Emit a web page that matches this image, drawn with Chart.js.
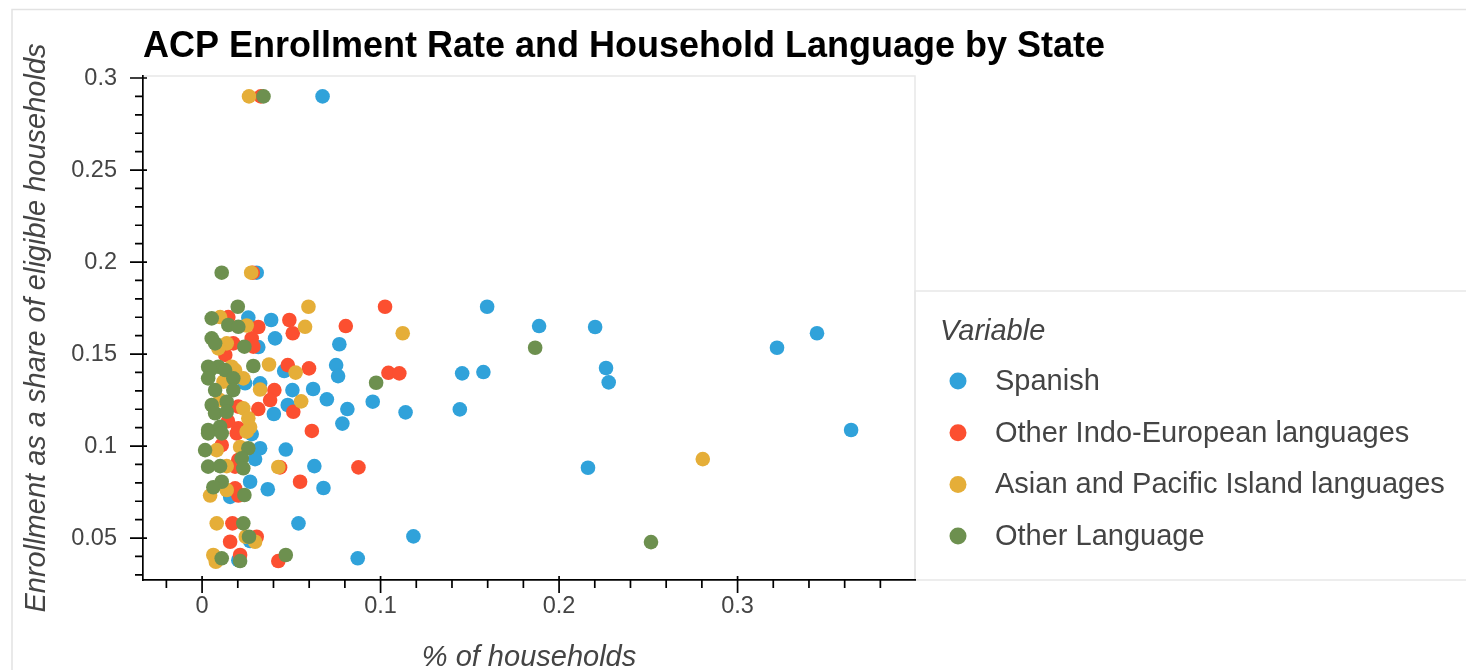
<!DOCTYPE html>
<html><head><meta charset="utf-8">
<script src="https://cdn.jsdelivr.net/npm/chart.js@4.4.1/dist/chart.umd.min.js"></script>
<style>html,body{margin:0;padding:0;background:#fff;overflow:hidden}#wrap{position:relative;width:1466px;height:670px}</style>
</head><body><div id="wrap"><canvas id="c" width="1466" height="670"></canvas></div>
<script>
const chartTitle = "ACP Enrollment Rate and Household Language by State";
const xAxisTitle = "% of households";
const yAxisTitle = "Enrollment as a share of eligible households";
const legendTitle = "Variable";
const seriesNames = ["Spanish", "Other Indo-European languages", "Asian and Pacific Island languages", "Other Language"];
const seriesColors = ["#30a2da", "#fc4f30", "#e5ae38", "#6d904f"];

const xTickValues = [0, 0.1, 0.2, 0.3];
const xTickLabels = ["0", "0.1", "0.2", "0.3"];
const yTickValues = [0.05, 0.1, 0.15, 0.2, 0.25, 0.3];
const yTickLabels = ["0.05", "0.1", "0.15", "0.2", "0.25", "0.3"];
const xMinorTicks = [-0.02, 0.02, 0.04, 0.06, 0.08, 0.12, 0.14, 0.16, 0.18, 0.22, 0.24, 0.26, 0.28, 0.32, 0.34, 0.36, 0.38];
const yMinorTicks = [0.03, 0.04, 0.06, 0.07, 0.08, 0.09, 0.11, 0.12, 0.13, 0.14, 0.16, 0.17, 0.18, 0.19, 0.21, 0.22, 0.23, 0.24, 0.26, 0.27, 0.28, 0.29];
const xRange = [-0.0331, 0.3994];
const yRange = [0.0272, 0.3011];

const spanishX = [0.0675,0.0306,0.1597,0.0259,0.0387,0.1888,0.2202,0.0409,0.0769,0.0315,0.3221,0.3445,0.0751,0.0762,0.0460,0.1457,0.1576,0.2278,0.2263,0.0241,0.0325,0.0622,0.0506,0.0699,0.0956,0.0480,0.0814,0.0402,0.1140,0.1444,0.0786,0.3636,0.0278,0.0325,0.0469,0.0297,0.0629,0.2162,0.0269,0.0368,0.0680,0.0157,0.0540,0.0269,0.1184,0.0203,0.0872];
const spanishY = [0.290,0.1942,0.1757,0.1698,0.1685,0.1652,0.1647,0.1585,0.1553,0.1538,0.1534,0.1613,0.1440,0.1380,0.1408,0.1395,0.1402,0.1346,0.1424,0.1341,0.1341,0.1310,0.1304,0.1254,0.1241,0.1223,0.1201,0.1174,0.1183,0.1199,0.1122,0.1087,0.1065,0.0988,0.0981,0.0929,0.0891,0.0882,0.0806,0.0765,0.0772,0.0724,0.0580,0.0484,0.0509,0.0380,0.0390];

const indoX = [0.0329,0.0284,0.1025,0.0147,0.0489,0.0805,0.0315,0.0508,0.0278,0.0175,0.0287,0.0480,0.0599,0.1044,0.1105,0.0405,0.0381,0.0511,0.0203,0.0315,0.0203,0.0615,0.0194,0.0203,0.0185,0.0437,0.0876,0.0549,0.0185,0.0203,0.0170,0.0306,0.0157,0.0213,0.0427,0.0130,0.0110,0.0145];
const indoY = [0.290,0.1942,0.1757,0.1701,0.1685,0.1652,0.1647,0.1613,0.1585,0.1558,0.1540,0.1440,0.1422,0.1398,0.1395,0.1304,0.1250,0.1186,0.1214,0.1201,0.1096,0.1082,0.1069,0.0924,0.0888,0.0884,0.0884,0.0806,0.0770,0.0731,0.0580,0.0507,0.0480,0.0408,0.0375,0.1495,0.1005,0.1135];

const asianX = [0.0263,0.0275,0.0596,0.0101,0.0577,0.0250,0.1124,0.0138,0.0091,0.0166,0.0375,0.0524,0.0185,0.0231,0.0325,0.0555,0.0231,0.0259,0.0269,0.0250,0.0082,0.0213,0.0138,0.0427,0.0138,0.0045,0.0082,0.0245,0.0297,0.0063,0.0077,0.2805,0.0100,0.0120];
const asianY = [0.290,0.1942,0.1757,0.1701,0.1648,0.1655,0.1613,0.1558,0.1531,0.1431,0.1443,0.1399,0.1413,0.1368,0.1307,0.1243,0.1205,0.1151,0.1103,0.1078,0.0978,0.0995,0.0891,0.0886,0.0761,0.0731,0.0580,0.0507,0.0480,0.0408,0.0371,0.0929,0.1250,0.1350];

const otherX = [0.0344,0.0110,0.0200,0.0054,0.0147,0.0203,0.0054,0.0073,0.0237,0.1866,0.0034,0.0091,0.0287,0.0045,0.0129,0.0034,0.0175,0.0975,0.0073,0.0175,0.0054,0.0138,0.0073,0.0138,0.0034,0.0101,0.0034,0.0110,0.0017,0.0259,0.0222,0.0034,0.0101,0.0231,0.0110,0.0063,0.0237,0.0231,0.0263,0.0110,0.0213,0.0469,0.2515];
const otherY = [0.290,0.1942,0.1757,0.1694,0.1658,0.1648,0.1585,0.1558,0.1540,0.1534,0.1431,0.1431,0.1435,0.1413,0.1413,0.1368,0.1368,0.1344,0.1304,0.1304,0.1223,0.1241,0.1178,0.1186,0.1087,0.1105,0.1069,0.1069,0.0978,0.0988,0.0933,0.0888,0.0891,0.0879,0.0806,0.0776,0.0734,0.0580,0.0507,0.0390,0.0375,0.0408,0.0478];

const FONT = '"Liberation Sans", Arial, Helvetica, sans-serif';
const TEXT = '#444444';

function pts(xs, ys) { return xs.map((x, i) => ({ x: x, y: ys[i] })); }
const seriesData = [pts(spanishX, spanishY), pts(indoX, indoY), pts(asianX, asianY), pts(otherX, otherY)];

const datasets = seriesNames.map((name, i) => ({
  label: name,
  data: seriesData[i],
  backgroundColor: seriesColors[i],
  borderWidth: 0,
  pointRadius: 7.3,
  pointHoverRadius: 7.3,
  order: seriesNames.length - i
}));

const decor = {
  id: 'decor',
  beforeDraw(chart) {
    const ctx = chart.ctx, a = chart.chartArea;
    ctx.save();
    ctx.strokeStyle = '#e2e2e2'; ctx.lineWidth = 1.5;
    ctx.beginPath(); ctx.moveTo(12, 672); ctx.lineTo(12, 9.5); ctx.lineTo(1470, 9.5); ctx.stroke();
    ctx.strokeStyle = '#e8e8e8'; ctx.lineWidth = 1.5;
    ctx.beginPath(); ctx.moveTo(a.left, a.top); ctx.lineTo(a.right, a.top); ctx.lineTo(a.right, a.bottom); ctx.stroke();
    ctx.beginPath(); ctx.moveTo(1470, 291); ctx.lineTo(a.right, 291); ctx.lineTo(a.right, a.bottom); ctx.lineTo(1470, a.bottom); ctx.stroke();
    ctx.restore();
  },
  afterDraw(chart) {
    const ctx = chart.ctx, a = chart.chartArea;
    const xs = chart.scales.x, ys = chart.scales.y;
    ctx.save();
    ctx.strokeStyle = '#000'; ctx.lineWidth = 1.7;
    ctx.beginPath();
    xTickValues.forEach(v => { const p = xs.getPixelForValue(v); ctx.moveTo(p, a.bottom - 4); ctx.lineTo(p, a.bottom + 13); });
    xMinorTicks.forEach(v => { const p = xs.getPixelForValue(v); ctx.moveTo(p, a.bottom); ctx.lineTo(p, a.bottom + 8); });
    yTickValues.forEach(v => { const p = ys.getPixelForValue(v); ctx.moveTo(a.left + 4, p); ctx.lineTo(a.left - 13, p); });
    yMinorTicks.forEach(v => { const p = ys.getPixelForValue(v); ctx.moveTo(a.left, p); ctx.lineTo(a.left - 8, p); });
    ctx.stroke();
    ctx.fillStyle = '#000';
    ctx.font = 'bold 36px ' + FONT;
    ctx.textBaseline = 'alphabetic'; ctx.textAlign = 'left';
    ctx.fillText(chartTitle, a.left, 57);
    ctx.fillStyle = TEXT;
    ctx.font = 'italic 29px ' + FONT;
    ctx.textBaseline = 'middle';
    ctx.fillText(legendTitle, 940, 332);
    ctx.font = '29px ' + FONT;
    chart.data.datasets.forEach((ds, i) => {
      const y = 381 + i * 51.7;
      ctx.beginPath(); ctx.fillStyle = ds.backgroundColor; ctx.arc(958, y, 8.5, 0, Math.PI * 2); ctx.fill();
      ctx.fillStyle = TEXT; ctx.fillText(ds.label, 995, y + 1);
    });
    ctx.restore();
  }
};

new Chart(document.getElementById('c'), {
  type: 'scatter',
  data: { datasets: datasets },
  options: {
    responsive: false, animation: false, devicePixelRatio: 1,
    layout: { padding: { left: 10, right: 551, top: 76, bottom: 0 } },
    plugins: { legend: { display: false }, tooltip: { enabled: false }, title: { display: false } },
    scales: {
      x: {
        type: 'linear', position: 'bottom', min: xRange[0], max: xRange[1],
        afterBuildTicks: (s) => { s.ticks = xTickValues.map(v => ({ value: v })); },
        afterFit: (s) => { s.height = 90; },
        ticks: { callback: (v, i) => xTickLabels[i], color: TEXT, font: { family: FONT, size: 23.5 }, padding: -1, maxRotation: 0 },
        grid: { display: true, drawOnChartArea: false, drawTicks: true, tickLength: 13, tickColor: 'rgba(0,0,0,0)' },
        border: { display: true, color: '#000', width: 1.7 },
        title: { display: true, text: xAxisTitle, color: TEXT, font: { family: FONT, size: 29, style: 'italic', lineHeight: 1 }, padding: { top: 0, bottom: -2 } }
      },
      y: {
        type: 'linear', position: 'left', min: yRange[0], max: yRange[1],
        afterBuildTicks: (s) => { s.ticks = yTickValues.map(v => ({ value: v })); },
        afterFit: (s) => { s.width = 133; },
        ticks: { callback: (v, i) => yTickLabels[i], color: TEXT, font: { family: FONT, size: 23.5 }, padding: 13 },
        grid: { display: true, drawOnChartArea: false, drawTicks: true, tickLength: 13, tickColor: 'rgba(0,0,0,0)' },
        border: { display: true, color: '#000', width: 1.7 },
        title: { display: true, text: yAxisTitle, color: TEXT, font: { family: FONT, size: 29, style: 'italic', lineHeight: 1 }, padding: { top: 12, bottom: 0 } }
      }
    }
  },
  plugins: [decor]
});
</script></body></html>
